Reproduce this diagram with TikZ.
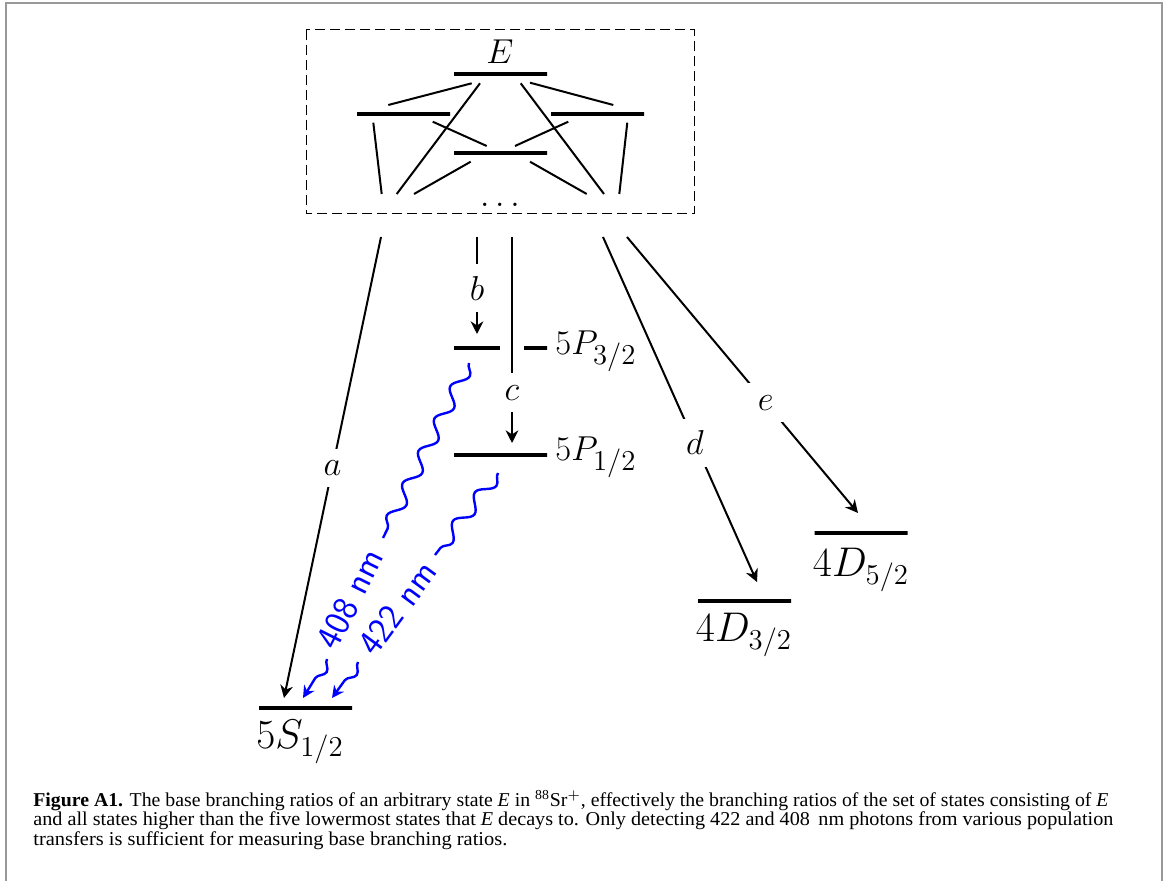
\documentclass[tikz,border=0pt]{standalone}
\usepackage[no-math]{fontspec}
\usepackage{graphicx}
\newfontfamily\capfont{Liberation Serif}
\usetikzlibrary{decorations.pathmorphing,arrows.meta}
\tikzset{
  level/.style={draw, line width=2pt, minimum width=46.5pt, minimum height=0pt, inner sep=0pt, outer sep=0pt},
  conn/.style={line width=1pt},
  tip/.style={-{Stealth[length=6.3pt,width=6.3pt,inset=2pt]}},
  arr/.style={conn, tip},
  lbl/.style={fill=white, inner sep=6pt, font=\fontsize{17}{20}\selectfont},
  slab/.style={inner sep=0pt, font=\fontsize{19.5}{23}\selectfont},
  plab/.style={inner sep=0pt, font=\fontsize{19}{23}\selectfont},
  photon/.style={draw=blue, line width=1.2pt, decorate,
     decoration={snake, amplitude=3.3pt, segment length=18pt}},
  photonarr/.style={draw=blue, line width=1.2pt, decorate,
     decoration={snake, amplitude=3.3pt, segment length=18pt, post length=5pt},
     -{Stealth[length=6pt,width=6pt,inset=2pt]}},
  wl/.style={text=blue, inner sep=0pt, font=\sffamily\fontsize{18}{22}\selectfont},
  capline/.style={inner sep=0pt, font=\capfont\fontsize{9.8}{11}\selectfont},
}
\begin{document}
\begin{tikzpicture}[x=0.5pt, y=-0.5pt]
\useasboundingbox (0,0) rectangle (1168,881);
% outer frame
\draw[gray!80, line width=1pt] (6,881) -- (6,3.5) -- (1161.5,3.5) -- (1161.5,881);
% dashed box
\draw[line width=0.5pt, dash pattern=on 5pt off 2.5pt] (306,30) rectangle (694,214);
\node[lbl, fill=none, inner sep=0pt] (Elab) at (500,52) {$E$};
\node[lbl, fill=none, inner sep=0pt] (dots) at (500,205) {$\dots$};
% levels
\node[level] (E) at (500.5,74) {};
\node[level] (L) at (403.5,114) {};
\node[level] (R) at (597.5,114) {};
\node[level] (C) at (500.5,153) {};
\node[level] (P3) at (500.5,348) {};
\node[level] (P1) at (500.5,455) {};
\node[level] (S) at (305.5,708) {};
\node[level] (D3) at (744.5,601) {};
\node[level] (D5) at (861,533) {};
% level labels
\node[slab, anchor=north] (Slab) at (300,720) {$5S_{1/2}$};
\node[slab, anchor=north] (D3lab) at (744,613) {$4D_{3/2}$};
\node[slab, anchor=north] (D5lab) at (861,548) {$4D_{5/2}$};
\node[plab, anchor=base west] (P3lab) at (555,355) {$5P_{3/2}$};
\node[plab, anchor=base west] (P1lab) at (555,461) {$5P_{1/2}$};
% internal transitions
\coordinate (i1s) at (471.7,83.3);  \coordinate (i1e) at (388.3,105);
\coordinate (i2s) at (530,82.7);    \coordinate (i2e) at (613.3,105);
\coordinate (i3s) at (480,83.3);    \coordinate (i3e) at (396.7,194);
\coordinate (i4s) at (520.7,83.3);  \coordinate (i4e) at (604,194);
\coordinate (i5s) at (432.7,121.7); \coordinate (i5e) at (486.7,146);
\coordinate (i6s) at (568.3,121.7); \coordinate (i6e) at (515,146);
\coordinate (i7s) at (373.3,122.7); \coordinate (i7e) at (381.7,194);
\coordinate (i8s) at (627.3,122.7); \coordinate (i8e) at (619.3,194);
\coordinate (i9s) at (470.7,161.7); \coordinate (i9e) at (414,194);
\coordinate (i10s) at (530,161.7);  \coordinate (i10e) at (586.7,194);
\foreach \i in {1,...,10} { \draw[conn] (i\i s) -- (i\i e); }
% decay channels
\coordinate (aT) at (381,237); \coordinate (aE) at (284,698);
\coordinate (bT) at (477,237); \coordinate (bE) at (477,334);
\coordinate (cT) at (512,237); \coordinate (cE) at (512,443);
\coordinate (dT) at (603,237); \coordinate (dE) at (757,582);
\coordinate (eT) at (627,237); \coordinate (eE) at (858,513);
\draw[arr] (aT) -- node[lbl, pos=0.501] (alab) {$a$} (aE);
\draw[arr] (bT) -- node[lbl, pos=0.526] (blab) {$b$} (bE);
\draw[arr, preaction={draw=white, line width=12pt, -}] (cT) -- node[lbl, pos=0.757] (clab) {$c$} (cE);
\draw[arr] (dT) -- node[lbl, pos=0.597] (dlab) {$d$} (dE);
\draw[arr] (eT) -- node[lbl, pos=0.601] (elab) {$e$} (eE);
% photons
\coordinate (w1s) at (469,363); \coordinate (w1m) at (383,538);
\coordinate (w1n) at (327,659); \coordinate (w1e) at (303,698);
\coordinate (w2s) at (498,473); \coordinate (w2m) at (435,555);
\coordinate (w2n) at (358,662); \coordinate (w2e) at (332,698);
\draw[photon] (w1s) -- (w1m);
\draw[photonarr] (w1n) -- (w1e);
\draw[photon] (w2s) -- (w2m);
\draw[photonarr] (w2n) -- (w2e);
\node[wl, rotate=63.6] (t408) at (350,599) {408 nm};
\node[wl, rotate=53.6] (t422) at (397,608) {422 nm};
% caption
\node[capline, anchor=base west] (cap1) at (33,806.5) {\resizebox{537.5pt}{\height}{\textbf{Figure A1.} The base branching ratios of an arbitrary state \textit{E} in \textsuperscript{88}Sr$^+$, effectively the branching ratios of the set of states consisting of \textit{E}}};
\node[capline, anchor=base west] (cap2) at (33,826) {\resizebox{540pt}{\height}{and all states higher than the five lowermost states that \textit{E} decays to. Only detecting 422 and 408\,\ nm photons from various population}};
\node[capline, anchor=base west] (cap3) at (33,845.5) {\resizebox{237pt}{\height}{transfers is sufficient for measuring base branching ratios.}};
\end{tikzpicture}
\end{document}
